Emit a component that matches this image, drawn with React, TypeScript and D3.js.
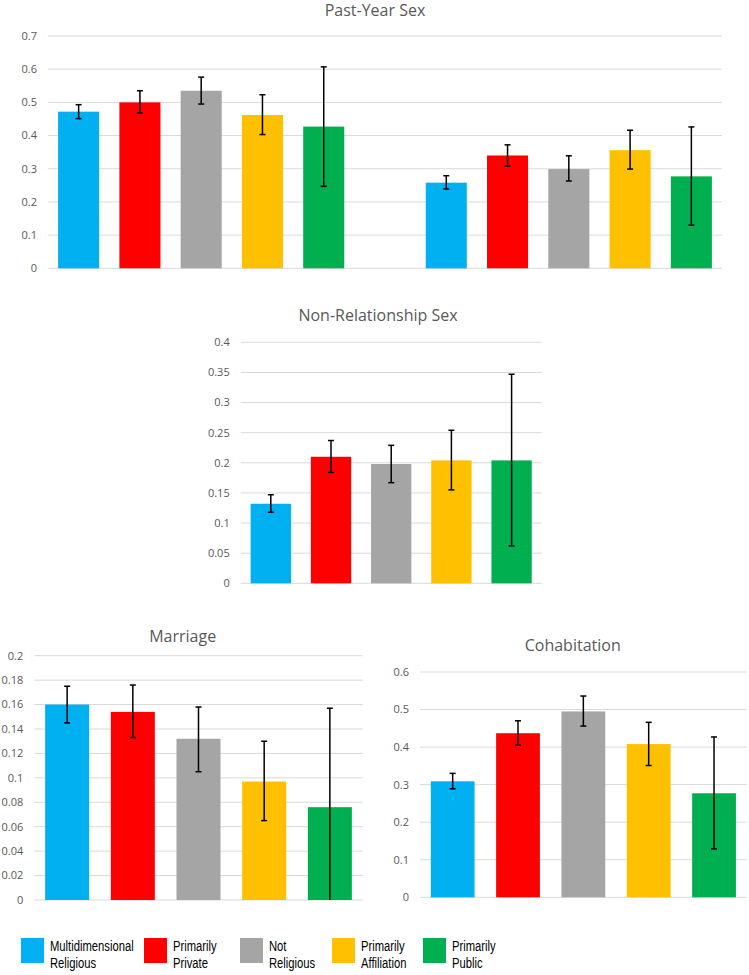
import React from 'react';
import * as d3 from 'd3';

const groups = ['Multidimensional Religious', 'Primarily Private', 'Not Religious', 'Primarily Affiliation', 'Primarily Public'];
const legendLines = [['Multidimensional', 'Religious'], ['Primarily', 'Private'], ['Not', 'Religious'], ['Primarily', 'Affiliation'], ['Primarily', 'Public']];
const colors = ['#00b0f0', '#ff0000', '#a5a5a5', '#ffc000', '#00b050'];

// Past-year sex, two clusters
const pastYearA = [0.472, 0.5, 0.535, 0.462, 0.427];
const pastYearALow = [0.451, 0.468, 0.495, 0.403, 0.247];
const pastYearAHigh = [0.493, 0.535, 0.576, 0.523, 0.607];
const pastYearB = [0.258, 0.34, 0.299, 0.356, 0.277];
const pastYearBLow = [0.239, 0.308, 0.263, 0.299, 0.13];
const pastYearBHigh = [0.279, 0.372, 0.339, 0.416, 0.426];

const nonRel = [0.132, 0.21, 0.198, 0.204, 0.204];
const nonRelLow = [0.118, 0.184, 0.167, 0.155, 0.062];
const nonRelHigh = [0.147, 0.237, 0.229, 0.254, 0.347];

const marriage = [0.16, 0.154, 0.132, 0.097, 0.076];
const marriageLow = [0.145, 0.133, 0.105, 0.065, 0];
const marriageHigh = [0.175, 0.176, 0.158, 0.13, 0.157];

const cohab = [0.309, 0.437, 0.495, 0.408, 0.277];
const cohabLow = [0.289, 0.405, 0.456, 0.351, 0.129];
const cohabHigh = [0.33, 0.47, 0.536, 0.466, 0.427];

const pastYearTicks = d3.range(0, 0.71, 0.1);
const nonRelTicks = d3.range(0, 0.401, 0.05);
const marriageTicks = d3.range(0, 0.201, 0.02);
const cohabTicks = d3.range(0, 0.61, 0.1);

const uiFont = '"Open Sans", "Noto Sans", sans-serif';
const fmt = (v: number) => String(+v.toFixed(2));

type Bar = { key: string; value: number; low: number; high: number; color: string };

function Panel({ title, bars, slots, ticks, yMax, left, right, top, bottom, titleX, titleY }: any) {
  const x = d3.scaleBand<string>().domain(slots).range([left, right]).paddingInner(0.33).paddingOuter(0.165);
  const y = d3.scaleLinear().domain([0, yMax]).range([bottom, top]);
  return (
    <g>
      <text x={titleX} y={titleY} textAnchor="middle" fontFamily={uiFont} fontSize={16} fill="#595959">{title}</text>
      {ticks.map((t: number) => (
        <g key={t}>
          <line x1={left} x2={right} y1={y(t)} y2={y(t)} stroke="#d9d9d9" strokeWidth={1} />
          <text x={left - 11} y={y(t)} dy="0.35em" textAnchor="end" fontFamily={uiFont} fontSize={11} fill="#595959">{fmt(t)}</text>
        </g>
      ))}
      {bars.map((b: Bar) => (
        <rect key={b.key} x={x(b.key)} width={x.bandwidth()} y={y(b.value)} height={y(0) - y(b.value)} fill={b.color} />
      ))}
      {bars.map((b: Bar) => {
        const cx = (x(b.key) as number) + x.bandwidth() / 2;
        return (
          <g key={'e' + b.key} stroke="#000" strokeWidth={1.5}>
            <line x1={cx} x2={cx} y1={y(b.high)} y2={y(Math.max(0, b.low))} />
            <line x1={cx - 3} x2={cx + 3} y1={y(b.high)} y2={y(b.high)} />
            {b.low > 0 && <line x1={cx - 3} x2={cx + 3} y1={y(b.low)} y2={y(b.low)} />}
          </g>
        );
      })}
    </g>
  );
}

const makeBars = (prefix: string, vals: number[], lows: number[], highs: number[]): Bar[] =>
  groups.map((g, i) => ({ key: prefix + g, value: vals[i], low: lows[i], high: highs[i], color: colors[i] }));

const legendX = [21, 144, 240, 332, 423];

export default function App() {
  const pyA = makeBars('A ', pastYearA, pastYearALow, pastYearAHigh);
  const pyB = makeBars('B ', pastYearB, pastYearBLow, pastYearBHigh);
  const pySlots = [...pyA.map(b => b.key), 'gap', ...pyB.map(b => b.key)];
  const nr = makeBars('', nonRel, nonRelLow, nonRelHigh);
  const mr = makeBars('', marriage, marriageLow, marriageHigh);
  const ch = makeBars('', cohab, cohabLow, cohabHigh);

  return (
    <svg width={749} height={975} style={{ position: 'absolute', left: 0, top: 0, background: '#fff' }}>
      <rect width={749} height={975} fill="#fff" />
      <Panel title="Past-Year Sex" bars={[...pyA, ...pyB]} slots={pySlots} ticks={pastYearTicks} yMax={0.7}
        left={48} right={722} top={36} bottom={268.3} titleX={375} titleY={16} />
      <Panel title="Non-Relationship Sex" bars={nr} slots={nr.map(b => b.key)} ticks={nonRelTicks} yMax={0.4}
        left={240.7} right={541.7} top={342.3} bottom={583.3} titleX={378} titleY={320.5} />
      <Panel title="Marriage" bars={mr} slots={mr.map(b => b.key)} ticks={marriageTicks} yMax={0.2}
        left={34.3} right={362.7} top={655.7} bottom={900} titleX={182.7} titleY={641.5} />
      <Panel title="Cohabitation" bars={ch} slots={ch.map(b => b.key)} ticks={cohabTicks} yMax={0.6}
        left={420} right={746.7} top={672} bottom={897.3} titleX={572.7} titleY={650.5} />
      {legendLines.map((lines, i) => (
        <g key={groups[i]} transform={`translate(${legendX[i]},938)`}>
          <rect width={23} height={25} fill={colors[i]} />
          <g transform="translate(29,0) scale(0.75,1)">
            {lines.map((l, j) => (
              <text key={j} x={0} y={12.7 + j * 17} fontFamily='"Liberation Sans", Arial, sans-serif'
                fontSize={15} fill="#000">{l}</text>
            ))}
          </g>
        </g>
      ))}
    </svg>
  );
}
